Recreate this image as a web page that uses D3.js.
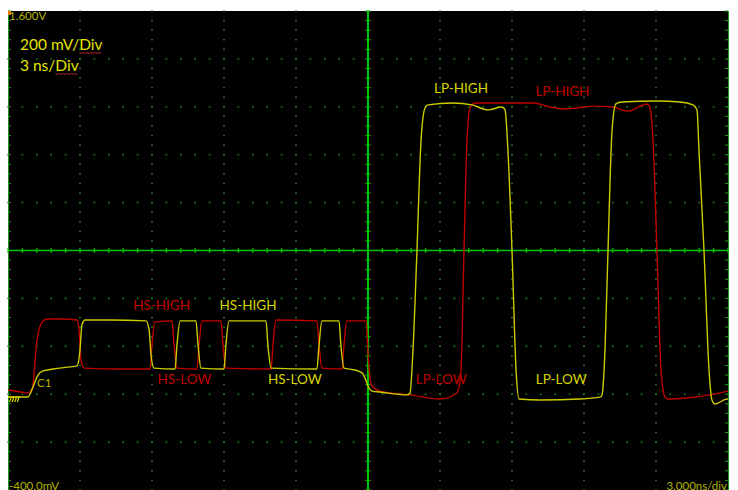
<!DOCTYPE html>
<html>
<head>
<meta charset="utf-8">
<script src="https://cdnjs.cloudflare.com/ajax/libs/d3/7.8.5/d3.min.js"></script>
<style>
  body { margin: 0; background: #fff; }
  svg { display: block; }
</style>
</head>
<body>
<svg id="chart" width="738" height="490"></svg>
<script>
// scope settings: 200 mV/div, 3 ns/div, 10 x 10 divisions
var timeRange = [0, 30];      // ns
var voltRange = [-0.4, 1.6];  // V

// red channel (ns, V)
var redT = [0, 0.54, 0.79, 1.0, 1.21, 1.42, 1.63, 2.17, 2.88, 2.96, 3.04, 3.17, 4.67, 5.92, 6.0, 6.12,
  6.83, 6.92, 7.04, 7.87, 7.96, 8.08, 8.87, 8.96, 9.08, 10.96, 11.04, 11.17, 12.87, 12.96, 13.08,
  13.92, 14.0, 14.12, 14.92, 15.0, 15.08, 15.17, 15.5, 16.75, 18.0, 18.71, 18.875, 19.0, 19.125,
  19.25, 19.46, 20.5, 21.875, 22.58, 23.125, 24.54, 25.21, 25.83, 26.625, 26.75, 26.875, 27.04,
  27.21, 27.375, 27.5, 28.29, 29.25, 30];
var redV = [0.018, 0.009, 0.005, 0.018, 0.226, 0.301, 0.314, 0.314, 0.310, 0.268, 0.143, 0.109, 0.105, 0.105, 0.205, 0.301,
  0.306, 0.205, 0.109, 0.105, 0.205, 0.306, 0.306, 0.205, 0.109, 0.105, 0.205, 0.310, 0.306, 0.205, 0.109,
  0.105, 0.205, 0.306, 0.306, 0.172, 0.068, 0.034, 0.013, -0.003, -0.020, 0.005, 0.100, 0.600, 1.060,
  1.195, 1.216, 1.216, 1.216, 1.199, 1.191, 1.203, 1.199, 1.182, 1.212, 1.195, 1.060, 0.600,
  0.100, -0.012, -0.020, -0.016, -0.003, 0.013];

// yellow channel (ns, V)
var yelT = [0, 0.83, 1.04, 1.25, 1.46, 1.88, 2.58, 2.88, 3.0, 3.08, 3.21, 4.25, 5.75, 5.88, 5.96, 6.08,
  6.96, 7.04, 7.17, 7.83, 7.92, 8.04, 9.0, 9.08, 9.21, 10.75, 10.83, 10.96, 12.87, 12.96, 13.08,
  13.79, 13.87, 14.0, 14.46, 14.75, 14.875, 15.0, 15.17, 15.5, 16.62, 16.75, 16.875, 17.04, 17.21,
  17.375, 17.5, 18.54, 19.33, 20.0, 20.58, 20.71, 20.83, 21.0, 21.17, 21.29, 22.17, 23.83, 24.67,
  24.75, 24.875, 25.0, 25.17, 25.33, 25.58, 27.04, 28.0, 28.54, 28.71, 28.79, 29.0, 29.21, 29.33,
  29.46, 29.96, 30];
var yelV = [-0.012, -0.012, 0.030, 0.080, 0.097, 0.105, 0.114, 0.118, 0.185, 0.289, 0.310, 0.310, 0.306, 0.268, 0.164, 0.109,
  0.105, 0.205, 0.306, 0.306, 0.205, 0.109, 0.105, 0.205, 0.306, 0.306, 0.205, 0.109, 0.105, 0.205, 0.306,
  0.306, 0.205, 0.109, 0.101, 0.089, 0.068, 0.034, 0.013, 0.009, -0.003, 0.005, 0.185, 0.600, 1.061,
  1.195, 1.208, 1.216, 1.208, 1.187, 1.199, 1.187, 1.020, 0.600, 0.100, -0.020, -0.024, -0.020, -0.012,
  -0.003, 0.185, 0.600, 1.103, 1.212, 1.220, 1.224, 1.220, 1.208, 1.187, 1.020, 0.600, 0.100, -0.024,
  -0.041, -0.020, -0.020];

// annotations: text, centre time (ns), baseline volt, channel
var noteText = ["HS-HIGH", "HS-HIGH", "HS-LOW", "HS-LOW", "LP-HIGH", "LP-HIGH", "LP-LOW", "LP-LOW"];
var noteT    = [6.4, 10.0, 7.35, 11.95, 18.875, 23.1, 18.05, 23.05];
var noteV    = [0.352, 0.352, 0.042, 0.042, 1.258, 1.245, 0.042, 0.042];
var noteCh   = ["red", "yel", "red", "yel", "yel", "red", "red", "yel"];

var scaleText = ["200 mV/Div", "3 ns/Div"];
var topLabel = "1.600V", bottomLabel = "-400.0mV", timeLabel = "3.000ns/div";

var col = { red: "#c00000", yel: "#cccc00", redText: "#c00000", yelText: "#d6d600" };

var svg = d3.select("#chart");
var plotL = 8, plotR = 728, plotT = 11, plotB = 490;

var x = d3.scaleLinear().domain(timeRange).range([plotL, plotR]);
var y = d3.scaleLinear().domain(voltRange).range([plotB, plotT]);

svg.append("rect")
  .attr("x", plotL).attr("y", plotT)
  .attr("width", plotR - plotL + 1).attr("height", plotB - plotT)
  .attr("fill", "#000");

// dotted graticule
var majorT = d3.range(0, 30.001, 3);
var majorV = d3.range(-0.4, 1.6001, 0.2);
var minorT = d3.range(0, 30.001, 0.6);
var minorV = d3.range(-0.4, 1.6001, 0.04);

var grid = svg.append("g").attr("class", "grid").attr("fill", "#1f901f");
majorT.slice(1, -1).forEach(function(t) {
  if (Math.abs(t - 15) < 1e-6) return;
  grid.selectAll(null).data(minorV).enter().append("rect")
    .attr("x", x(t) - 0.75).attr("y", function(v) { return y(v) - 0.75; })
    .attr("width", 1.5).attr("height", 1.5);
});
majorV.slice(1, -1).forEach(function(v) {
  if (Math.abs(v - 0.6) < 1e-6) return;
  grid.selectAll(null).data(minorT).enter().append("rect")
    .attr("x", function(t) { return x(t) - 0.75; }).attr("y", y(v) - 0.75)
    .attr("width", 1.5).attr("height", 1.5);
});

// frame edge ticks
var edge = svg.append("g").attr("stroke", "#1c9a1c").attr("stroke-width", 1);
edge.append("line").attr("x1", plotL + 0.5).attr("x2", plotL + 0.5).attr("y1", plotT).attr("y2", plotB);
edge.append("line").attr("x1", plotR + 0.5).attr("x2", plotR + 0.5).attr("y1", plotT).attr("y2", plotB);
edge.selectAll(".lt").data(minorV).enter().append("line")
  .attr("x1", plotL).attr("x2", plotL + 3)
  .attr("y1", function(v) { return y(v); }).attr("y2", function(v) { return y(v); });
edge.selectAll(".rt").data(minorV).enter().append("line")
  .attr("x1", plotR - 3).attr("x2", plotR)
  .attr("y1", function(v) { return y(v); }).attr("y2", function(v) { return y(v); });

// centre cross with ticks
var cross = svg.append("g").attr("stroke", "#00c400");
cross.append("line").attr("x1", plotL).attr("x2", plotR)
  .attr("y1", y(0.6)).attr("y2", y(0.6)).attr("stroke-width", 1.6);
cross.append("line").attr("x1", x(15)).attr("x2", x(15))
  .attr("y1", plotT).attr("y2", plotB).attr("stroke-width", 2);
cross.selectAll(".ht").data(minorT).enter().append("line")
  .attr("x1", function(t) { return x(t); }).attr("x2", function(t) { return x(t); })
  .attr("y1", y(0.6) - 2.5).attr("y2", y(0.6) + 2.5).attr("stroke-width", 1.2);
cross.selectAll(".vt").data(minorV).enter().append("line")
  .attr("x1", x(15) - 2.5).attr("x2", x(15) + 2.5)
  .attr("y1", function(v) { return y(v); }).attr("y2", function(v) { return y(v); })
  .attr("stroke-width", 1.2);

// traces
var line = d3.line()
  .x(function(d) { return x(d[0]); })
  .y(function(d) { return y(d[1]); })
  .curve(d3.curveMonotoneX);

svg.append("path")
  .datum(d3.zip(redT, redV))
  .attr("d", line)
  .attr("fill", "none").attr("stroke", col.red).attr("stroke-width", 1.4);
svg.append("path")
  .datum(d3.zip(yelT, yelV))
  .attr("d", line)
  .attr("fill", "none").attr("stroke", col.yel).attr("stroke-width", 1.4);

// annotations
svg.append("g").selectAll("text")
  .data(d3.range(noteText.length))
  .enter().append("text")
  .attr("x", function(i) { return x(noteT[i]); })
  .attr("y", function(i) { return y(noteV[i]); })
  .attr("text-anchor", "middle")
  .style("font-family", "Lato, 'Open Sans', sans-serif")
  .style("font-size", "13.5px")
  .style("fill", function(i) { return noteCh[i] == "red" ? col.redText : col.yelText; })
  .text(function(i) { return noteText[i]; });

// scale readout top left, with the spell checker squiggle under "Div"
scaleText.forEach(function(s, i) {
  var t = svg.append("text")
    .attr("x", 20).attr("y", 50 + i * 21)
    .style("font-family", "Lato, 'Open Sans', sans-serif")
    .style("font-size", "15.5px")
    .style("fill", "#e4e400")
    .text(s);
  var node = t.node();
  var start = s.indexOf("Div");
  var x0 = 20 + node.getSubStringLength(0, start);
  var x1 = 20 + node.getSubStringLength(0, s.length);
  var yy = 50 + i * 21 + 2.5;
  var pts = d3.range(x0, x1, 2).map(function(px, k) { return [px, yy + (k % 2 ? 1 : 0)]; });
  svg.append("path")
    .attr("d", d3.line()(pts))
    .attr("fill", "none").attr("stroke", "#d03030").attr("stroke-width", 0.9);
});

// edge readouts
var small = { "font-family": "Lato, 'Open Sans', sans-serif", "font-size": "11.5px", "fill": "#b4b400" };
function smallText(txt, px, py, anchor) {
  var t = svg.append("text").attr("x", px).attr("y", py).attr("text-anchor", anchor || "start").text(txt);
  Object.keys(small).forEach(function(k) { t.style(k, small[k]); });
  return t;
}
smallText(topLabel, plotL + 1, plotT + 9);
smallText(bottomLabel, plotL + 1, plotB - 0.5);
smallText(timeLabel, plotR - 1, plotB - 0.5, "end");
smallText("C1", 37, y(0.03));

// trigger marker and ground symbol
svg.append("rect").attr("x", plotL).attr("y", plotT).attr("width", 3).attr("height", 4).attr("fill", "#f08000");
var gy = y(-0.012);
var gnd = svg.append("g").attr("stroke", "#d8d800").attr("stroke-width", 1.2).attr("fill", "none");
gnd.append("line").attr("x1", plotL).attr("x2", plotL + 12).attr("y1", gy).attr("y2", gy);
d3.range(0, 4).forEach(function(k) {
  gnd.append("line")
    .attr("x1", plotL + 3 + k * 2.6).attr("x2", plotL + 1.5 + k * 2.6)
    .attr("y1", gy + 1).attr("y2", gy + 5);
});
</script>
</body>
</html>
